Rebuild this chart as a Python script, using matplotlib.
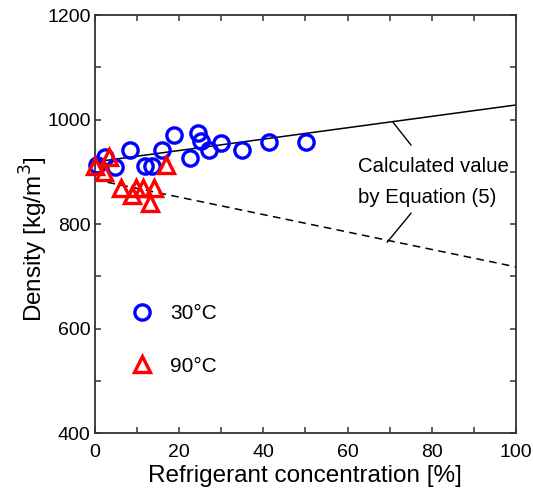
import matplotlib
matplotlib.use("Agg")
import matplotlib.pyplot as plt
from matplotlib.ticker import MultipleLocator

plt.rcParams['font.family'] = ['Liberation Sans', 'DejaVu Sans']

# datos
conc_30 = [0.5, 2.4, 4.8, 8.3, 11.9, 13.5, 15.9, 18.8, 22.6, 24.5, 25.2, 27.1, 29.9, 34.9, 41.3, 50.1]
dens_30 = [913, 928, 909, 942, 911, 911, 942, 970, 926, 974, 959, 942, 955, 942, 957, 957]

conc_90 = [0.0, 3.3, 2.1, 6.2, 8.8, 9.7, 11.4, 14.0, 13.1, 16.9]
dens_90 = [911, 928, 900, 869, 856, 869, 869, 869, 840, 913]

# rectas calculadas (Ecuacion 5)
calc_x = [0, 100]
calc_30 = [919, 1028]
calc_90 = [885, 718]

fig = plt.figure(figsize=(5.33, 4.88), dpi=100)
ax = fig.add_axes([0.178, 0.1127, 0.79, 0.8563])

ax.plot(calc_x, calc_30, color='black', lw=1.1)
ax.plot(calc_x, calc_90, color='black', lw=1.1, ls=(0, (5, 3.5)))

c1, = ax.plot(conc_30, dens_30, ls='none', marker='o', ms=11, mfc='none',
              mec='#0000ff', mew=2.4, label='30°C', clip_on=False, zorder=5)
c2, = ax.plot(conc_90, dens_90, ls='none', marker='^', ms=11.5, mfc='none',
              mec='#ff0000', mew=2.4, label='90°C', clip_on=False, zorder=6)

ax.set_xlim(0, 100)
ax.set_ylim(400, 1200)
ax.xaxis.set_major_locator(MultipleLocator(20))
ax.xaxis.set_minor_locator(MultipleLocator(10))
ax.yaxis.set_major_locator(MultipleLocator(200))
ax.yaxis.set_minor_locator(MultipleLocator(100))
ax.tick_params(which='both', direction='in', top=True, right=True,
               length=4, width=1.1, color='#333333', labelsize=14)
ax.tick_params(axis='x', pad=8)
ax.tick_params(axis='y', pad=3)
for s in ax.spines.values():
    s.set_linewidth(1.3)
    s.set_color('#333333')

ax.set_xlabel('Refrigerant concentration [%]', fontsize=17.5, labelpad=3)
ax.set_ylabel('Density [kg/m$^3$]', fontsize=17.5, labelpad=-2, y=0.464)

# anotacion con lineas guia
ax.text(62.5, 900, 'Calculated value', fontsize=14.7, ha='left', va='baseline')
ax.text(62.5, 840, 'by Equation (5)', fontsize=14.7, ha='left', va='baseline')
ax.annotate('', xy=(70.8, 995), xytext=(75.1, 951),
            arrowprops=dict(arrowstyle='-', color='black', lw=1.0, shrinkA=0, shrinkB=0))
ax.annotate('', xy=(75.1, 821), xytext=(69.4, 765),
            arrowprops=dict(arrowstyle='-', color='black', lw=1.0, shrinkA=0, shrinkB=0))

ax.legend(handles=[c1, c2], loc='center left', bbox_to_anchor=(0.084, 0.2225),
          frameon=False, fontsize=15, numpoints=1, handlelength=1.1,
          handletextpad=0.8, borderpad=0, borderaxespad=0, labelspacing=1.6)

fig.savefig('out.png', dpi=100)
